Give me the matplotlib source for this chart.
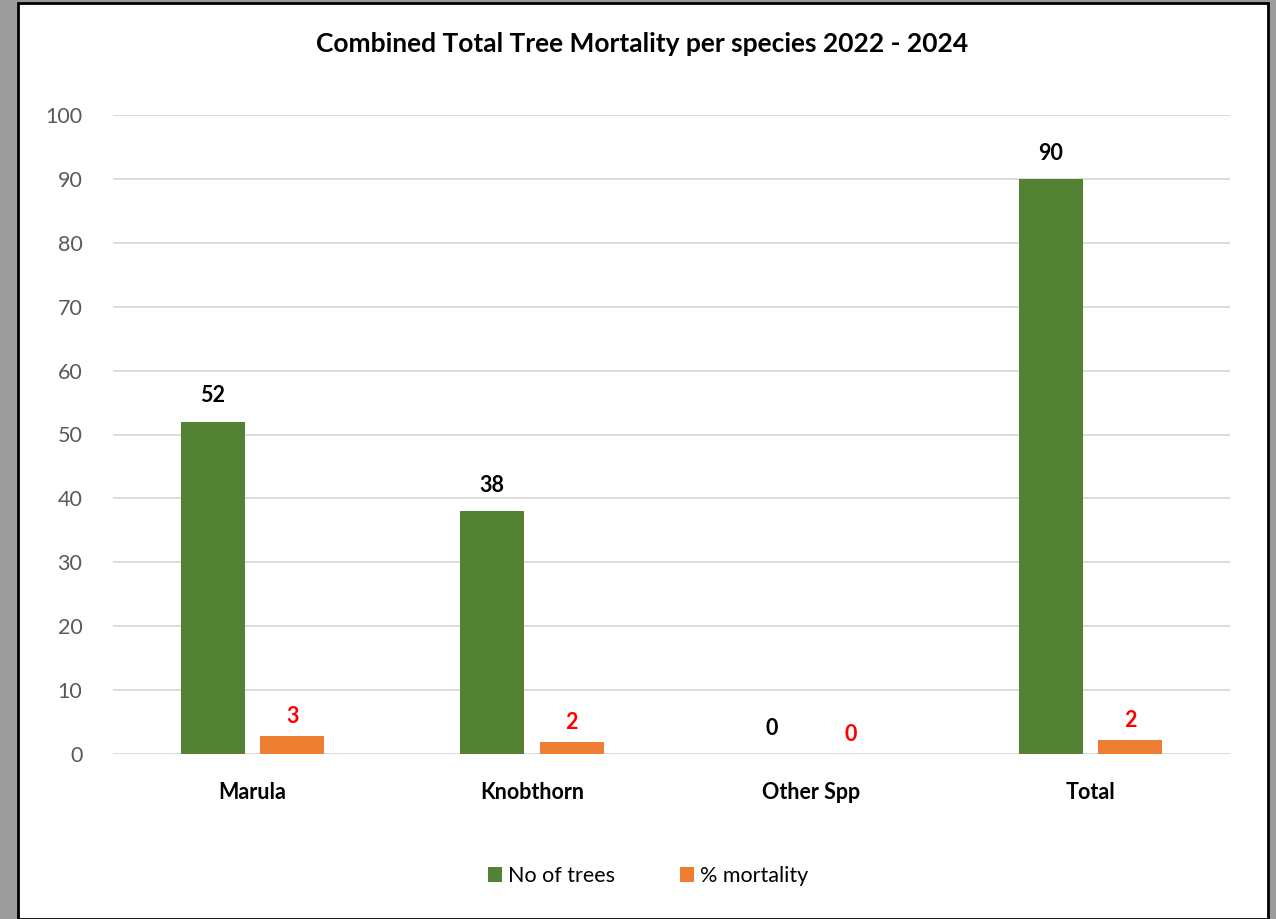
import numpy as np
import matplotlib.pyplot as plt
from matplotlib.patches import Rectangle

categories = ["Marula", "Knobthorn", "Other Spp", "Total"]
no_of_trees = [52, 38, 0, 90]
pct_mortality = [2.8, 1.9, 0, 2.2]

W, H = 1276, 919
plt.rcParams['font.family'] = ['Lato', 'DejaVu Sans']

fig = plt.figure(figsize=(W / 100, H / 100), dpi=100)
fig.patch.set_facecolor("#9c9c9c")

# white chart panel with black frame, kept behind the axes
panel = Rectangle((18 / W, 0), (1268 - 18) / W, (916 - 0) / H,
                  transform=fig.transFigure, facecolor="white",
                  edgecolor="black", linewidth=2, zorder=-5)
fig.patches.append(panel)

ax = fig.add_axes([113 / W, (H - 754) / H, (1230 - 113) / W, (754 - 115) / H])
ax.set_facecolor("none")

x = np.arange(len(categories))
w = 0.229
off = 0.142
b1 = ax.bar(x - off, no_of_trees, w, color="#548235", label="No of trees", zorder=3)
b2 = ax.bar(x + off, pct_mortality, w, color="#ED7D31", label="% mortality", zorder=3)

for i, v in enumerate(no_of_trees):
    ax.text(x[i] - off, v + 2.4, f"{v:.0f}", ha="center", va="bottom",
            fontsize=15.5, fontweight="bold", color="black")
for i, v in enumerate(pct_mortality):
    ax.text(x[i] + off, v + 1.4, f"{v:.0f}", ha="center", va="bottom",
            fontsize=15.5, fontweight="bold", color="#FF0000")

ax.set_xlim(-0.5, len(categories) - 0.5)
ax.set_ylim(0, 100)
ax.set_yticks(range(0, 101, 10))
ax.set_xticks(x)
ax.set_xticklabels(categories, fontsize=15.5, fontweight="bold")
ax.tick_params(axis="y", labelsize=15.5, labelcolor="#595959", length=0, pad=22)
ax.tick_params(axis="x", length=0, pad=20)
ax.grid(axis="y", color="#d9d9d9", linewidth=1.3, zorder=0)
for s in ax.spines.values():
    s.set_visible(False)

fig.text(642 / W, 1 - 44 / H, "Combined Total Tree Mortality per species 2022 - 2024",
         ha="center", va="center", fontsize=19, fontweight="bold")

fig.legend(handles=[b1, b2], loc="center", bbox_to_anchor=(648 / W, 1 - 876 / H),
           ncol=2, frameon=False, fontsize=15.5, handlelength=0.65, handleheight=0.65,
           columnspacing=3.0, handletextpad=0.3)

fig.savefig("out.png", dpi=100)
